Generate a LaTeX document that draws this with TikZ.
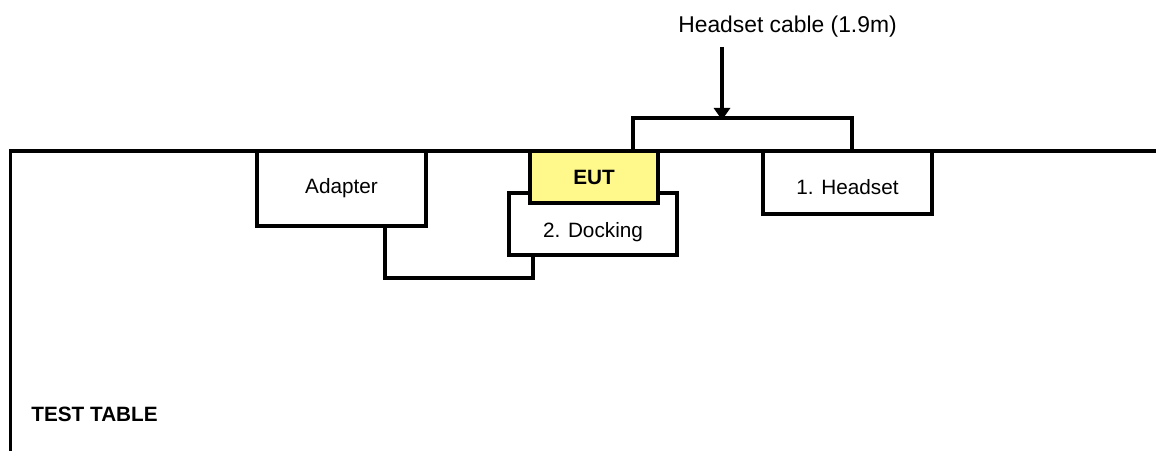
\documentclass[tikz,border=0pt]{standalone}
\usepackage{fontspec}
\setmainfont{Liberation Sans}
\usetikzlibrary{positioning}
\usetikzlibrary{arrows.meta}
\tikzset{
    unitbox/.style={draw, fill=white, line width=2pt, inner sep=0pt,
        font=\fontsize{11.8}{14}\selectfont},
    boxtext/.style={font=\fontsize{11.8}{14}\selectfont},
    cable/.style={line width=2pt},
}

\begin{document}
\begin{tikzpicture}
\useasboundingbox (0,0) rectangle (23.12,9);

% Test table
\coordinate (tabletl) at (0.21,5.98);
\coordinate (tabletr) at (23.2,5.98);
\coordinate (tablebl) at (0.21,-0.1);
\draw[cable] (tabletr) -- (tabletl) -- (tablebl);
\node[anchor=west, inner sep=0pt, font=\fontsize{11.8}{14}\selectfont\bfseries]
    (tablelabel) at (0.62,0.72) {TEST TABLE};

% Adapter
\node [unitbox,
    minimum width=3.38cm,
    minimum height=1.5cm
] (adapter) at (6.83,5.23) {Adapter};

% Docking
\node [unitbox,
    minimum width=3.36cm,
    minimum height=1.24cm,
    label={[name=dockinglabel, yshift=-0.16cm, boxtext]center:2. Docking}
] (docking) at (11.86,4.52) {};

% Cable adapter - docking
\draw[cable] ([xshift=0.87cm]adapter.south) -- ++(0,-1.0) -| ([xshift=-1.2cm]docking.south);

% EUT
\node [unitbox,
    fill=yellow!45,
    minimum width=2.56cm,
    minimum height=1.04cm,
    font=\fontsize{11.8}{14}\selectfont\bfseries
] (eut) at (11.88,5.46) {EUT};

% Headset
\node [unitbox,
    minimum width=3.38cm,
    minimum height=1.26cm,
    label={[name=headsetlabel, yshift=-0.09cm, boxtext]center:1. Headset}
] (headset) at (16.95,5.35) {};

% Headset cable
\draw[cable] ([xshift=0.78cm]eut.north) -- ++(0,0.62) -| ([xshift=0.09cm]headset.north);
\coordinate (cabletop) at (14.44,6.6);
\coordinate (arrowstart) at (14.44,8.06);
\node[inner sep=0pt, font=\fontsize{13}{15}\selectfont] (cablelabel) at (15.75,8.46)
    {Headset cable (1.9m)};
\draw[cable, -{Triangle[length=0.24cm, width=0.32cm]}] (arrowstart) -- (cabletop);

\end{tikzpicture}
\end{document}
